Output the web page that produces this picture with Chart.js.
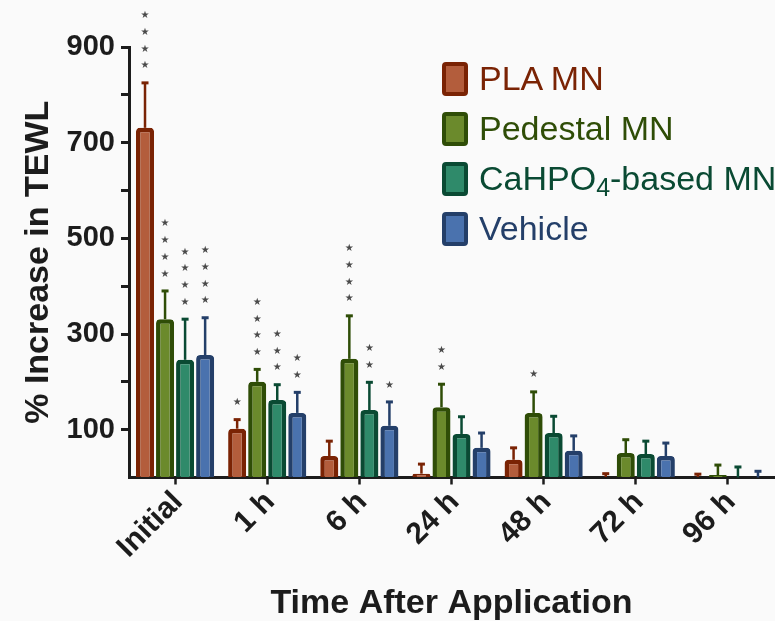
<!DOCTYPE html>
<html lang="en">
<head>
    <meta charset="UTF-8">
    <title>% Increase in TEWL</title>
    <script src="https://cdn.jsdelivr.net/npm/chart.js"></script>
    <style>
        body {
            margin: 0;
            background-color: #fafafa;
            font-family: "Liberation Sans", Arial, sans-serif;
            overflow: hidden;
        }
        .wrap {
            position: relative;
            width: 775px;
            height: 621px;
        }
        #legend {
            position: absolute;
            left: 442px;
            top: 61px;
        }
        .legend-item {
            display: flex;
            align-items: center;
            height: 35px;
            margin-bottom: 15px;
            white-space: nowrap;
        }
        .legend-box {
            width: 18px;
            height: 26px;
            border-width: 4.5px;
            border-style: solid;
            border-radius: 4px;
            margin-right: 11px;
        }
        .legend-text {
            font-size: 34px;
            line-height: 35px;
        }
        .legend-text sub {
            font-size: 25px;
            vertical-align: -6px;
            line-height: 0;
        }
    </style>
</head>
<body>
    <div class="wrap">
        <canvas id="tewlChart"></canvas>
        <div id="legend"></div>
    </div>
    <script>
        // Daten
        const categories = ['Initial', '1 h', '6 h', '24 h', '48 h', '72 h', '96 h'];

        const plaMean = [731, 102, 45, 8, 37, 1, 1];
        const plaErr = [94, 19, 31, 20, 25, 7, 6];
        const plaStars = [4, 1, 0, 0, 0, 0, 0];

        const pedestalMean = [331, 200, 248, 147, 135, 51, 5];
        const pedestalErr = [59, 26, 90, 48, 44, 28, 21];
        const pedestalStars = [4, 4, 4, 2, 1, 0, 0];

        const cahpoMean = [246, 162, 141, 91, 93, 49, 0];
        const cahpoErr = [85, 32, 58, 36, 35, 27, 22];
        const cahpoStars = [4, 3, 2, 0, 0, 0, 0];

        const vehicleMean = [256, 135, 108, 62, 56, 45, 0];
        const vehicleErr = [78, 43, 50, 31, 31, 27, 13];
        const vehicleStars = [4, 2, 1, 0, 0, 0, 0];

        const yTicks = [100, 300, 500, 700, 900];

        const textColor = '#1c1c1c';

        function makeSet(label, data, err, stars, fill, line) {
            return {
                label: label,
                data: data,
                err: err,
                stars: stars,
                backgroundColor: fill,
                borderColor: line,
                borderWidth: 4.5,
                borderRadius: 4,
                borderSkipped: 'start',
                categoryPercentage: 0.87,
                barPercentage: 0.9
            };
        }

        // Fehlerbalken (nur nach oben) und Sternchen
        const errorBars = {
            id: 'errorBars',
            afterDatasetsDraw(chart) {
                const ctx = chart.ctx;
                const yScale = chart.scales.y;
                chart.data.datasets.forEach((ds, i) => {
                    const meta = chart.getDatasetMeta(i);
                    meta.data.forEach((bar, j) => {
                        const top = yScale.getPixelForValue(ds.data[j] + ds.err[j]);
                        const base = yScale.getPixelForValue(ds.data[j]);
                        ctx.save();
                        ctx.strokeStyle = ds.borderColor;
                        ctx.lineWidth = 2.5;
                        ctx.beginPath();
                        ctx.moveTo(bar.x, base);
                        ctx.lineTo(bar.x, top);
                        ctx.stroke();
                        ctx.lineWidth = 3;
                        ctx.beginPath();
                        ctx.moveTo(bar.x - 3.5, top);
                        ctx.lineTo(bar.x + 3.5, top);
                        ctx.stroke();
                        ctx.fillStyle = '#4a4a4a';
                        ctx.font = '10px "DejaVu Sans"';
                        ctx.textAlign = 'center';
                        ctx.textBaseline = 'middle';
                        for (let k = 0; k < ds.stars[j]; k++) {
                            ctx.fillText('\u2605', bar.x, top - 17 - k * 16.7);
                        }
                        ctx.restore();
                    });
                });
            }
        };

        const ctx = document.getElementById('tewlChart').getContext('2d');
        const chart = new Chart(ctx, {
            type: 'bar',
            data: {
                labels: categories,
                datasets: [
                    makeSet('PLA MN', plaMean, plaErr, plaStars, '#b35d3c', '#7a2304'),
                    makeSet('Pedestal MN', pedestalMean, pedestalErr, pedestalStars, '#6b8a2c', '#2f4d07'),
                    makeSet('CaHPO4-based MN', cahpoMean, cahpoErr, cahpoStars, '#2f8a6a', '#0a4a33'),
                    makeSet('Vehicle', vehicleMean, vehicleErr, vehicleStars, '#4a72ae', '#243f69')
                ]
            },
            options: {
                responsive: true,
                maintainAspectRatio: false,
                animation: false,
                layout: {
                    padding: { top: 47, left: 18, right: 1, bottom: 0 }
                },
                plugins: {
                    legend: { display: false },
                    tooltip: { enabled: false }
                },
                scales: {
                    x: {
                        grid: {
                            offset: false,
                            drawOnChartArea: false,
                            tickLength: 7,
                            tickWidth: 2.5,
                            tickColor: textColor
                        },
                        border: { display: true, width: 3, color: textColor },
                        ticks: {
                            color: textColor,
                            font: { family: '"Liberation Sans", Arial', size: 30, weight: 'bold' },
                            minRotation: 45,
                            maxRotation: 45,
                            padding: 0,
                            labelOffset: 3
                        },
                        title: {
                            display: true,
                            text: 'Time After Application',
                            color: textColor,
                            font: { family: '"Liberation Sans", Arial', size: 34, weight: 'bold', lineHeight: 1 },
                            padding: { top: 0, bottom: 0 }
                        },
                        afterFit(scale) {
                            scale.height = 143.5;
                        }
                    },
                    y: {
                        min: 0,
                        max: 900,
                        grid: {
                            drawOnChartArea: false,
                            tickLength: 8,
                            tickWidth: 3,
                            tickColor: (c) => c.tick && c.tick.value === 0 ? 'rgba(0,0,0,0)' : textColor
                        },
                        border: { display: true, width: 3, color: textColor },
                        ticks: {
                            stepSize: 100,
                            color: textColor,
                            padding: 6,
                            font: { family: '"Liberation Sans", Arial', size: 29, weight: 'bold' },
                            callback: (v) => yTicks.includes(v) ? v : ''
                        },
                        title: {
                            display: true,
                            text: '% Increase in TEWL',
                            color: textColor,
                            font: { family: '"Liberation Sans", Arial', size: 34, weight: 'bold' },
                            padding: 0
                        },
                        afterFit(scale) {
                            scale.width = 111;
                        }
                    }
                }
            },
            plugins: [errorBars]
        });

        // Legende als HTML, aus den Datensätzen erzeugt
        const legend = document.getElementById('legend');
        chart.data.datasets.forEach((ds) => {
            const item = document.createElement('div');
            item.className = 'legend-item';
            item.innerHTML = `
                <div class="legend-box" style="background:${ds.backgroundColor};border-color:${ds.borderColor}"></div>
                <span class="legend-text" style="color:${ds.borderColor}">${ds.label.replace('PO4', 'PO<sub>4</sub>')}</span>
            `;
            legend.appendChild(item);
        });
    </script>
</body>
</html>
